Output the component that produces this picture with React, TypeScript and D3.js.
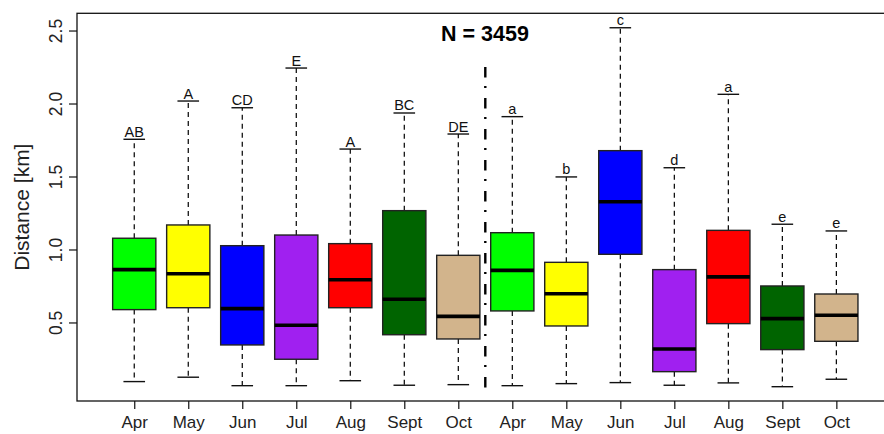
import React, {useEffect, useRef} from 'react';
import * as d3 from 'd3';

const months = ['Apr', 'May', 'Jun', 'Jul', 'Aug', 'Sept', 'Oct', 'Apr', 'May', 'Jun', 'Jul', 'Aug', 'Sept', 'Oct'];
const fills = ['#00ff00', '#ffff00', '#0000ff', '#a020f0', '#ff0000', '#006400', '#d2b48c',
    '#00ff00', '#ffff00', '#0000ff', '#a020f0', '#ff0000', '#006400', '#d2b48c'];
const lowWhisker = [0.095, 0.125, 0.067, 0.067, 0.101, 0.070, 0.074, 0.067, 0.081, 0.088, 0.070, 0.086, 0.060, 0.111];
const q1 = [0.588, 0.601, 0.346, 0.248, 0.601, 0.416, 0.387, 0.579, 0.476, 0.967, 0.163, 0.492, 0.314, 0.371];
const medians = [0.862, 0.834, 0.595, 0.481, 0.793, 0.659, 0.542, 0.857, 0.697, 1.327, 0.318, 0.812, 0.526, 0.549];
const q3 = [1.077, 1.168, 1.026, 1.099, 1.040, 1.266, 0.960, 1.115, 0.912, 1.677, 0.862, 1.131, 0.750, 0.695];
const highWhisker = [1.755, 2.017, 1.971, 2.243, 1.688, 1.935, 1.791, 1.910, 1.497, 2.519, 1.560, 2.063, 1.173, 1.127];
const letters = ['AB', 'A', 'CD', 'E', 'A', 'BC', 'DE', 'a', 'b', 'c', 'd', 'a', 'e', 'e'];
const yTicks = [0.5, 1.0, 1.5, 2.0, 2.5];
const title = 'N = 3459';
const yLabel = 'Distance [km]';

const W = 884;
const H = 434;
const font = 'Liberation Sans, Arial, Helvetica, sans-serif';

const App: React.FC = () => {
    const ref = useRef<SVGSVGElement>(null);
    useEffect(() => {
        const svg = d3.select(ref.current);
        svg.selectAll('*').remove();

        const x = d3.scaleLinear().domain([-0.06, 15.06]).range([77, 893.6]);
        const y = d3.scaleLinear().domain([-0.038, 2.618]).range([401, 13.3]);
        const step = x(2) - x(1);
        const boxW = step * 0.8;
        const capW = step * 0.4;

        const idx = months.map((_, i) => i);
        const g = svg.append('g');

        // whiskers (dashed)
        g.selectAll('.wup').data(idx).enter().append('line')
            .attr('x1', (i) => x(i + 1)).attr('x2', (i) => x(i + 1))
            .attr('y1', (i) => y(q3[i])).attr('y2', (i) => y(highWhisker[i]))
            .attr('stroke', '#000').attr('stroke-width', 1.2).attr('stroke-dasharray', '5,4');
        g.selectAll('.wlo').data(idx).enter().append('line')
            .attr('x1', (i) => x(i + 1)).attr('x2', (i) => x(i + 1))
            .attr('y1', (i) => y(q1[i])).attr('y2', (i) => y(lowWhisker[i]))
            .attr('stroke', '#000').attr('stroke-width', 1.2).attr('stroke-dasharray', '5,4');

        // caps
        [highWhisker, lowWhisker].forEach((arr) => {
            g.selectAll(null).data(idx).enter().append('line')
                .attr('x1', (i) => x(i + 1) - capW / 2).attr('x2', (i) => x(i + 1) + capW / 2)
                .attr('y1', (i) => y(arr[i])).attr('y2', (i) => y(arr[i]))
                .attr('stroke', '#111').attr('stroke-width', 1.4);
        });

        // boxes
        g.selectAll('.box').data(idx).enter().append('rect')
            .attr('x', (i) => x(i + 1) - boxW / 2)
            .attr('y', (i) => y(q3[i]))
            .attr('width', boxW)
            .attr('height', (i) => y(q1[i]) - y(q3[i]))
            .attr('fill', (i) => fills[i])
            .attr('stroke', '#222').attr('stroke-width', 1.4);

        // medians
        g.selectAll('.med').data(idx).enter().append('line')
            .attr('x1', (i) => x(i + 1) - boxW / 2).attr('x2', (i) => x(i + 1) + boxW / 2)
            .attr('y1', (i) => y(medians[i])).attr('y2', (i) => y(medians[i]))
            .attr('stroke', '#000').attr('stroke-width', 3.6);

        // letters above caps
        g.selectAll('.let').data(idx).enter().append('text')
            .attr('x', (i) => x(i + 1))
            .attr('y', (i) => y(highWhisker[i]) - 2.5)
            .attr('text-anchor', 'middle')
            .attr('font-family', font).attr('font-size', 14.5)
            .attr('fill', '#111')
            .text((i) => letters[i]);

        // separator
        g.append('line')
            .attr('x1', x(7.5)).attr('x2', x(7.5))
            .attr('y1', y(2.25)).attr('y2', y(0))
            .attr('stroke', '#000').attr('stroke-width', 2.4)
            .attr('stroke-dasharray', '10.5,8.5,2,10');

        // frame
        svg.append('rect')
            .attr('x', x.range()[0]).attr('y', y.range()[1])
            .attr('width', x.range()[1] - x.range()[0])
            .attr('height', y.range()[0] - y.range()[1])
            .attr('fill', 'none').attr('stroke', '#111').attr('stroke-width', 1.3);

        // y axis
        const yAxis = svg.append('g')
            .attr('transform', `translate(${x.range()[0]},0)`)
            .call(d3.axisLeft(y).tickValues(yTicks).tickSize(8).tickPadding(0).tickFormat(d3.format('.1f')));
        yAxis.select('.domain').remove();
        yAxis.selectAll('line').attr('stroke', '#111').attr('stroke-width', 1.2);
        yAxis.selectAll('text')
            .attr('font-family', font).attr('font-size', 17.5).attr('fill', '#222')
            .attr('transform', 'translate(-15.5,0) rotate(-90)')
            .attr('x', 0).attr('y', 0).attr('dy', 0)
            .attr('text-anchor', 'middle');

        // x axis
        const xAxis = svg.append('g')
            .attr('transform', `translate(0,${y.range()[0]})`)
            .call(d3.axisBottom(x).tickValues(idx.map((i) => i + 1)).tickSize(8).tickPadding(0)
                .tickFormat((d) => months[(d as number) - 1]));
        xAxis.select('.domain').remove();
        xAxis.selectAll('line').attr('stroke', '#111').attr('stroke-width', 1.2);
        xAxis.selectAll('text')
            .attr('font-family', font).attr('font-size', 17).attr('fill', '#222')
            .attr('y', 26.5).attr('dy', 0);

        // titles
        svg.append('text')
            .attr('x', 485).attr('y', 40.5)
            .attr('text-anchor', 'middle')
            .attr('font-family', font).attr('font-size', 21.5).attr('font-weight', 'bold')
            .text(title);
        svg.append('text')
            .attr('transform', `translate(29,${(y.range()[0] + y.range()[1]) / 2}) rotate(-90)`)
            .attr('text-anchor', 'middle')
            .attr('font-family', font).attr('font-size', 21).attr('fill', '#222')
            .text(yLabel);
    }, []);

    return (
        <svg ref={ref} width={W} height={H}
             style={{position: 'absolute', left: 0, top: 0, background: '#fff', display: 'block'}} />
    );
};

export default App;
